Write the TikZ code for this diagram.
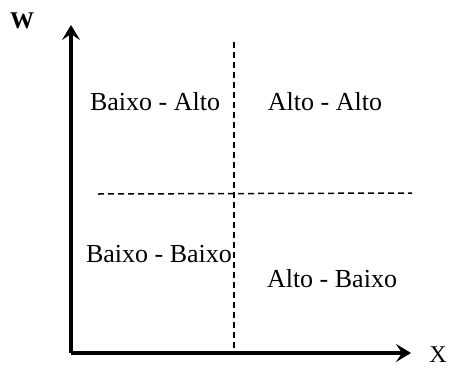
\documentclass[tikz,border=0pt]{standalone}
\usepackage{fontspec}
\setmainfont{Liberation Serif}
\usetikzlibrary{arrows.meta}
\tikzset{
  axis/.style={line width=3.8pt, line cap=butt, -{Stealth[length=15pt,width=18pt,inset=6pt]}},
  divider/.style={line width=1.5pt, dash pattern=on 6pt off 4pt},
  quad/.style={inner sep=0pt, anchor=base, font=\fontsize{26}{30}\selectfont},
  axlabel/.style={inner sep=0pt, anchor=base, font=\fontsize{24}{28}\selectfont}
}
\begin{document}
\begin{tikzpicture}[x=1pt,y=-1pt]
\useasboundingbox (0,0) rectangle (449,367);
\coordinate (O) at (71,353);
\coordinate (Wtip) at (71,25);
\coordinate (Xtip) at (411,353);
\coordinate (vtop) at (234,42);
\coordinate (vbot) at (234,353);
\coordinate (hl) at (98,194);
\coordinate (hr) at (412,193);
\draw[divider] (vtop) -- (vbot);
\draw[divider] (hl) -- (hr);
\draw[axis] (O) -- (Wtip);
\draw[axis] (O) -- (Xtip);
\node[axlabel, font=\fontsize{24}{28}\selectfont\bfseries] (W) at (22,28) {W};
\node[axlabel] (X) at (438,362) {X};
\node[quad] (ba) at (155,110) {Baixo - Alto};
\node[quad] (aa) at (325,110) {Alto - Alto};
\node[quad] (bb) at (159,262) {Baixo - Baixo};
\node[quad] (ab) at (332,287) {Alto - Baixo};
\end{tikzpicture}
\end{document}
